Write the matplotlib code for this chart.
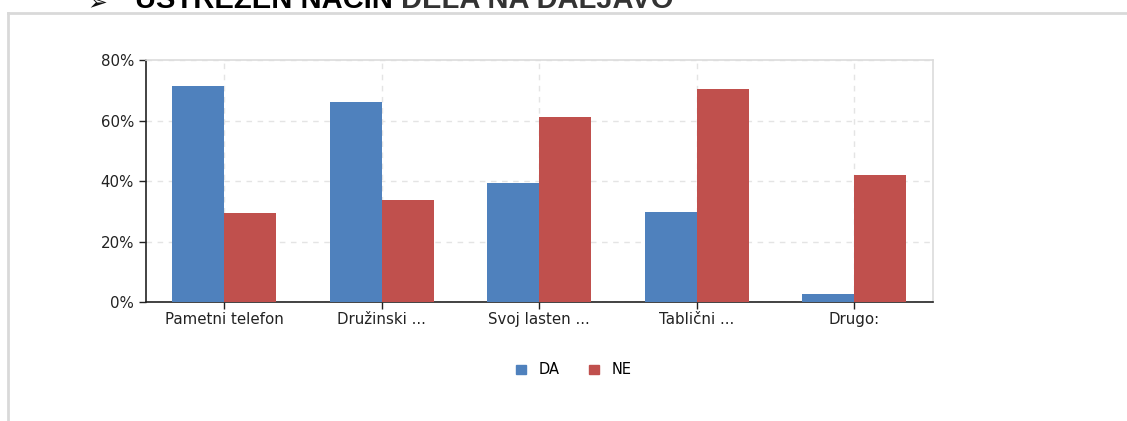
import numpy as np
from matplotlib import pyplot as plt
from matplotlib.patches import Patch
import matplotlib.ticker as mticker

# ---------------- data
categories = ["Pametni telefon", "Družinski ...", "Svoj lasten ...", "Tablični ...", "Drugo:"]
da_values = [71.5, 66.1, 39.5, 29.9, 2.7]
ne_values = [29.4, 33.8, 61.4, 70.6, 42.2]
series_names = ["DA", "NE"]
title_a = "USTREZEN NAČIN "
title_b = "DELA NA DALJAVO"
# ----------------

plt.rcParams['font.family'] = ['DejaVu Sans']

blue = "#4F81BD"
red = "#C0504D"

fig = plt.figure(figsize=(11.27, 4.21), dpi=100)

# outer frame of the page (grey lines at top and left)
fig.add_artist(plt.Line2D([8/1127, 1.0], [1 - 13/421, 1 - 13/421], color="#d9d9d9", lw=2))
fig.add_artist(plt.Line2D([8/1127, 8/1127], [0.0, 1 - 13/421], color="#d9d9d9", lw=2))

# title, mostly cut off by the top edge (as in the reference)
fig.text(87/1127, 1 - 10/421, "➢", fontsize=17, fontweight="bold", color="#111111",
         family=["DejaVu Sans"], va="baseline")
t1 = fig.text(135/1127, 1 - 7.5/421, title_a, fontsize=21, fontweight="bold", color="#000000",
              family=["Liberation Sans", "DejaVu Sans"], va="baseline")
fig.canvas.draw()
bb = t1.get_window_extent()
fig.text(bb.x1/1127, 1 - 7.5/421, title_b, fontsize=21, fontweight="bold", color="#333333",
         family=["Liberation Sans", "DejaVu Sans"], va="baseline")

ax = fig.add_axes([145.7/1127, 1 - 302.3/421, 787/1127, 242/421])

x = np.arange(len(categories))
w = 0.33
ax.bar(x - w/2, da_values, w, color=blue, zorder=3)
ax.bar(x + w/2, ne_values, w, color=red, zorder=3)

ax.set_xlim(-0.5, len(categories) - 0.5)
ax.set_ylim(0, 80)
ax.set_yticks([0, 20, 40, 60, 80])
ax.yaxis.set_major_formatter(mticker.FuncFormatter(lambda v, p: "%d%%" % v))
ax.set_xticks(x)
ax.set_xticklabels(categories)

ax.tick_params(axis="both", labelsize=10.8, colors="#222222", length=5, width=1)
ax.tick_params(axis="x", pad=2)

ax.grid(True, ls=(0, (4, 4)), color="#e4e4e4", lw=1, zorder=0)
ax.set_axisbelow(True)

for s in ["top", "right"]:
    ax.spines[s].set_color("#dcdcdc")
    ax.spines[s].set_linewidth(1.2)
for s in ["left", "bottom"]:
    ax.spines[s].set_color("#222222")
    ax.spines[s].set_linewidth(1.2)

handles = [Patch(color=blue, label=series_names[0]), Patch(color=red, label=series_names[1])]
fig.legend(handles=handles, loc="center", bbox_to_anchor=(574/1127, 1 - 370/421), ncol=2,
           frameon=False, fontsize=10.5, handlelength=0.65, handleheight=0.65,
           columnspacing=2.0, handletextpad=0.9)

plt.savefig("out.png", dpi=100)
plt.close()
